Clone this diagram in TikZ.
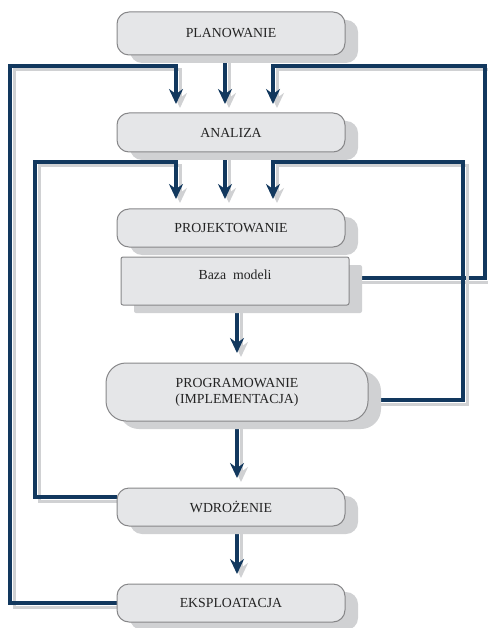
\documentclass[tikz,border=0pt]{standalone}
\usepackage{fontspec}
\setmainfont{Liberation Serif}
\usetikzlibrary{arrows.meta,shadows,backgrounds}
\definecolor{navy}{RGB}{18,56,94}
\definecolor{boxfill}{RGB}{229,230,232}
\definecolor{boxline}{RGB}{135,135,137}
\definecolor{shgray}{RGB}{208,209,211}
\definecolor{txt}{RGB}{35,35,35}
\tikzset{
  stagebox/.style={draw=boxline, line width=1pt, fill=boxfill, rounded corners=12pt,
    minimum width=228pt, minimum height=38pt, inner sep=4pt, text=txt,
    font=\fontsize{13.8}{16}\selectfont, align=center,
    general shadow={fill=shgray, shadow xshift=13pt, shadow yshift=-8pt}},
  conn/.style={line width=3.2pt, draw=navy,
    preaction={draw=shgray, line width=3pt, transform canvas={shift={(4pt,-4pt)}}}},
  arr/.style={conn, -{Stealth[length=15pt,width=14pt,inset=5pt]}}
}
\begin{document}
\begin{tikzpicture}[x=1pt,y=-1pt]
\useasboundingbox (0,0) rectangle (487,628);
\node[stagebox, minimum height=43pt] (plan) at (231,33.5) {PLANOWANIE};
\node[stagebox, minimum height=39pt] (ana) at (231,132.5) {ANALIZA};
\node[stagebox] (proj) at (231,228) {PROJEKTOWANIE};
\node[stagebox, rounded corners=2pt, minimum height=48pt, text height=9pt, text depth=13pt] (baza) at (235,281) {Baza\ \ modeli};
\node[stagebox, minimum width=262pt, minimum height=58pt, rounded corners=20pt] (prog) at (237,392) {PROGRAMOWANIE\\(IMPLEMENTACJA)};
\node[stagebox] (wdr) at (231,507) {WDROŻENIE};
\node[stagebox] (eks) at (231,603) {EKSPLOATACJA};
\coordinate (a1) at (176,104);
\coordinate (a2) at (225,104);
\coordinate (a3) at (273,104);
\coordinate (b1) at (176,199);
\coordinate (b2) at (225,199);
\coordinate (b3) at (273,199);
\coordinate (c1) at (237,353);
\coordinate (d1) at (237,478);
\coordinate (e1) at (237,574);
\begin{pgfonlayer}{background}
\draw[arr] (eks.west) -| (10,66) -| (a1);
\draw[arr] (plan.south -| a2) -- (a2);
\draw[arr] ([yshift=3pt]baza.east) -| (485,66) -| (a3);
\draw[arr] ([yshift=10pt]wdr.west) -| (35,162) -| (b1);
\draw[arr] (ana.south -| b2) -- (b2);
\draw[arr] ([yshift=-8pt]prog.east) -| (463,162) -| (b3);
\draw[arr] (baza.south -| c1) -- (c1);
\draw[arr] (prog.south -| d1) -- (d1);
\draw[arr] (wdr.south -| e1) -- (e1);
\end{pgfonlayer}
\end{tikzpicture}
\end{document}
